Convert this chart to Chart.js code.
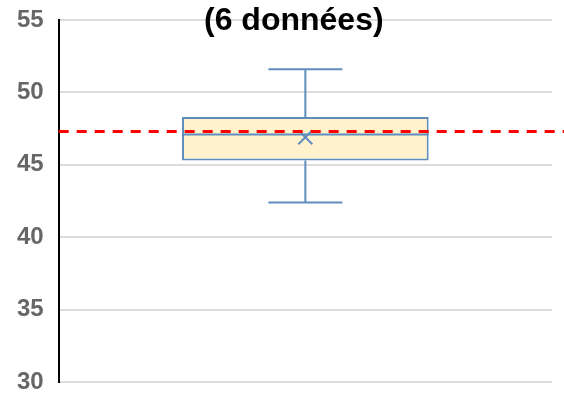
<!DOCTYPE html>
<html>
<head>
<title>Boîte à moustaches</title>
<script src="https://cdn.jsdelivr.net/npm/chart.js"></script>
<style>
  html, body { margin: 0; padding: 0; background: #fff; }
  #wrap { position: relative; width: 564px; height: 395px; }
  #title {
    position: absolute; left: 204px; top: 2px;
    font-family: 'Liberation Sans', Arial, sans-serif;
    font-weight: bold; font-size: 32px; line-height: 34px;
    color: #000; white-space: nowrap;
  }
</style>
</head>
<body>
<div id="wrap">
  <canvas id="chart" width="564" height="395"></canvas>
  <div id="title">(6 données)</div>
</div>
<script>
// box plot values
const categories = [''];
const whiskerLow = [42.4];
const q1 = [45.3];
const median = [47.1];
const q3 = [48.3];
const whiskerHigh = [51.6];
const mean = [46.9];
const refLine = [47.3];
const yTicks = [30, 35, 40, 45, 50, 55];

const boxBlue = '#5f8dbd';

// whiskers, median, mean cross and the red dashed reference line
const boxExtras = {
  id: 'boxExtras',
  afterDatasetsDraw(chart) {
    const ctx = chart.ctx;
    const y = chart.scales.y;
    const meta = chart.getDatasetMeta(0);
    ctx.save();
    meta.data.forEach((bar, i) => {
      const cx = bar.x;
      const half = bar.width / 2;
      const cap = bar.width * 0.15;
      ctx.strokeStyle = boxBlue;
      ctx.lineWidth = 2;
      ctx.beginPath();
      // upper whisker
      ctx.moveTo(cx, y.getPixelForValue(q3[i]));
      ctx.lineTo(cx, y.getPixelForValue(whiskerHigh[i]));
      ctx.moveTo(cx - cap, y.getPixelForValue(whiskerHigh[i]));
      ctx.lineTo(cx + cap, y.getPixelForValue(whiskerHigh[i]));
      // lower whisker
      ctx.moveTo(cx, y.getPixelForValue(q1[i]));
      ctx.lineTo(cx, y.getPixelForValue(whiskerLow[i]));
      ctx.moveTo(cx - cap, y.getPixelForValue(whiskerLow[i]));
      ctx.lineTo(cx + cap, y.getPixelForValue(whiskerLow[i]));
      // median
      ctx.moveTo(cx - half, y.getPixelForValue(median[i]));
      ctx.lineTo(cx + half, y.getPixelForValue(median[i]));
      ctx.stroke();
      // mean cross
      const my = y.getPixelForValue(mean[i]);
      const s = 7;
      ctx.beginPath();
      ctx.moveTo(cx - s, my - s); ctx.lineTo(cx + s, my + s);
      ctx.moveTo(cx + s, my - s); ctx.lineTo(cx - s, my + s);
      ctx.stroke();
    });
    // red dashed line, running to the canvas edge
    const ry = y.getPixelForValue(refLine[0]);
    ctx.strokeStyle = '#ff0000';
    ctx.lineWidth = 3;
    ctx.setLineDash([10, 8]);
    ctx.beginPath();
    ctx.moveTo(chart.chartArea.left, ry);
    ctx.lineTo(chart.width, ry);
    ctx.stroke();
    ctx.restore();
  }
};

new Chart(document.getElementById('chart'), {
  type: 'bar',
  data: {
    labels: categories,
    datasets: [{
      data: categories.map((c, i) => [q1[i], q3[i]]),
      backgroundColor: '#fff2cc',
      borderColor: boxBlue,
      borderWidth: 2,
      borderSkipped: false,
      barPercentage: 0.5,
      categoryPercentage: 1
    }]
  },
  options: {
    responsive: false,
    animation: false,
    layout: { padding: { top: 20, left: 2, right: 12, bottom: 13 } },
    plugins: { legend: { display: false }, tooltip: { enabled: false } },
    scales: {
      x: { display: false },
      y: {
        min: 30, max: 55,
        afterBuildTicks(axis) { axis.ticks = yTicks.map(v => ({ value: v })); },
        afterFit(axis) { axis.paddingTop = 12; axis.paddingBottom = 12; },
        ticks: {
          padding: 15,
          color: '#666666',
          font: { family: "'Liberation Sans', Arial, sans-serif", size: 24, weight: 'bold', lineHeight: 1 }
        },
        grid: { color: '#dcdcdc', lineWidth: 2, drawTicks: false },
        border: { display: true, color: '#000', width: 2 }
      }
    }
  },
  plugins: [boxExtras]
});
</script>
</body>
</html>
